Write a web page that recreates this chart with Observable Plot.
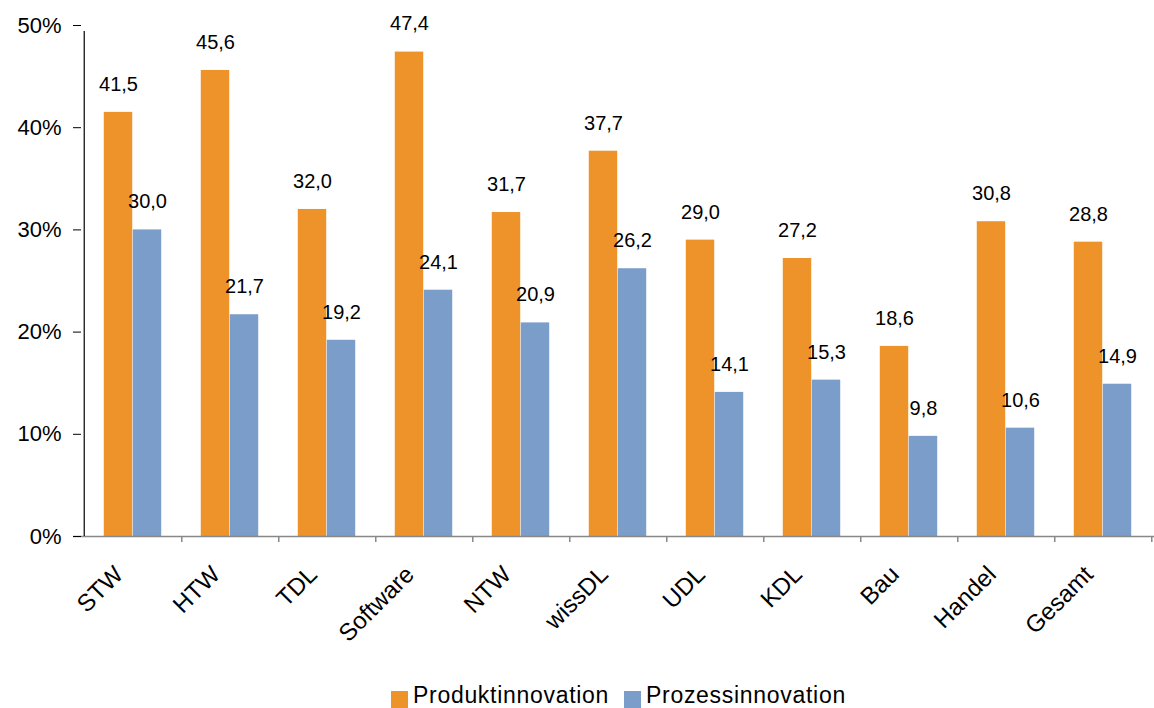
<!DOCTYPE html>
<html>
<head>
<meta charset="utf-8">
<script src="https://cdn.jsdelivr.net/npm/d3@7"></script>
<script src="https://cdn.jsdelivr.net/npm/@observablehq/plot@0.6"></script>
<style>
  html, body { margin: 0; padding: 0; background: #fff; }
  body { width: 1154px; font-family: "Liberation Sans", Arial, sans-serif; }
  #legend { display: flex; align-items: flex-end; height: 48px; padding-left: 391px; font-size: 23px; letter-spacing: 0.7px; line-height: 1; color: #000; box-sizing: border-box; }
  .sw { display: inline-block; width: 17px; height: 17px; margin-right: 5px; }
  .item { display: flex; align-items: flex-end; margin-right: 15px; }
  .lbl { margin-bottom: 1px; }
</style>
</head>
<body>
<div id="chart"></div>
<div id="legend"></div>
<script>
const categories = ["STW", "HTW", "TDL", "Software", "NTW", "wissDL", "UDL", "KDL", "Bau", "Handel", "Gesamt"];
const produkt = [41.5, 45.6, 32.0, 47.4, 31.7, 37.7, 29.0, 27.2, 18.6, 30.8, 28.8];
const prozess = [30.0, 21.7, 19.2, 24.1, 20.9, 26.2, 14.1, 15.3, 9.8, 10.6, 14.9];
const seriesNames = ["Produktinnovation", "Prozessinnovation"];
const colors = ["#EE922A", "#7B9DC9"];
const yTicks = [0, 10, 20, 30, 40, 50];

const W = 1154, H = 660, mL = 81, mR = 0, mT = 25, mB = 124;
const step = (W - mL - mR) / categories.length;
const half = step / 2;
const barW = 29;
const outer = half - barW;

const dataP = categories.map((c, i) => ({cat: c, v: produkt[i]}));
const dataZ = categories.map((c, i) => ({cat: c, v: prozess[i]}));
const fmt = v => v.toFixed(1).replace(".", ",");

const chart = Plot.plot({
  width: W, height: H,
  marginLeft: mL, marginRight: mR, marginTop: mT, marginBottom: mB,
  style: {fontFamily: "'Liberation Sans', Arial, sans-serif", fontSize: "21px", color: "#000", background: "#fff"},
  x: {domain: categories, padding: 0, axis: null, label: null},
  y: {domain: [0, 50], axis: null, label: null},
  marks: [
    Plot.barY(dataP, {x: "cat", y: "v", fill: colors[0], insetLeft: outer, insetRight: half}),
    Plot.barY(dataZ, {x: "cat", y: "v", fill: colors[1], insetLeft: half, insetRight: outer}),
    Plot.text(dataP, {x: "cat", y: "v", text: d => fmt(d.v), dx: -barW / 2, dy: -28, fontSize: 20, fill: "#000"}),
    Plot.text(dataZ, {x: "cat", y: "v", text: d => fmt(d.v), dx: barW / 2, dy: -28, fontSize: 20, fill: "#000"}),
    Plot.ruleY([0], {stroke: "#888", strokeWidth: 1.5, insetLeft: -8}),
    Plot.ruleX([categories[0]], {dx: -half, y1: 0, y2: 50, stroke: "#000", strokeWidth: 1.2, insetBottom: -6}),
    Plot.axisY({ticks: yTicks, tickSize: 8, tickPadding: 12, tickFormat: d => d + "%", fontSize: 22, letterSpacing: 1, label: null, stroke: "#000"}),
    Plot.axisX({tickSize: 6, text: null, dx: half, stroke: "#888", strokeWidth: 1.5, label: null}),
    Plot.axisX({tickSize: 0, tickRotate: -45, tickPadding: 34, fontSize: 24, letterSpacing: 1, label: null, dx: -14})
  ]
});
document.getElementById("chart").appendChild(chart);

const legend = document.getElementById("legend");
seriesNames.forEach((n, i) => {
  const it = document.createElement("span");
  it.className = "item";
  it.innerHTML = `<span class="sw" style="background:${colors[i]}"></span><span class="lbl">${n}</span>`;
  legend.appendChild(it);
});
</script>
</body>
</html>
